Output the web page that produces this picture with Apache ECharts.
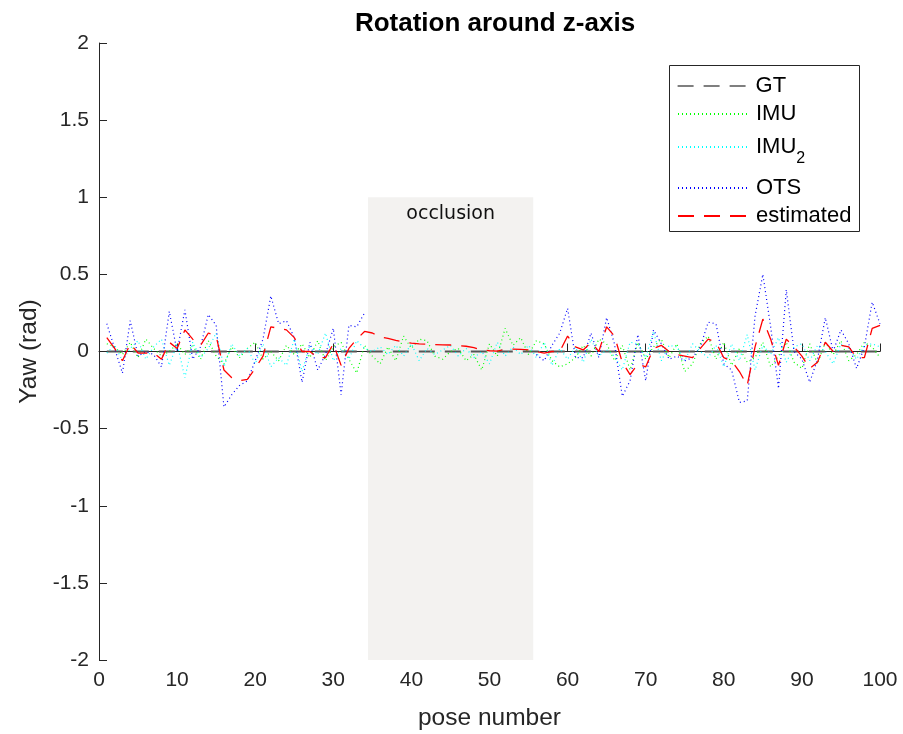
<!DOCTYPE html>
<html>
<head>
<meta charset="utf-8">
<script src="https://cdn.jsdelivr.net/npm/echarts@6/dist/echarts.min.js"></script>
<style>html,body{margin:0;padding:0;background:#fff;}#c{width:903px;height:734px;}</style>
</head>
<body>
<div id="c"></div>
<script>
const poses = Array.from({length: 100}, (_, i) => i + 1);
const gt = poses.map(() => 0);
const imu = [0.05,0.03,-0.02,0.06,-0.04,0.08,0.02,-0.03,0.0,0.05,-0.02,0.04,-0.05,0.07,-0.03,-0.08,0.03,-0.04,0.02,0.06,-0.05,0.0,-0.06,0.04,-0.02,0.05,-0.04,0.07,-0.06,0.03,0.06,-0.05,-0.14,0.04,-0.03,-0.08,0.03,-0.06,0.1,0.02,0.08,0.07,-0.03,-0.05,0.0,0.02,-0.06,-0.02,-0.12,0.05,-0.03,0.15,0.04,0.09,-0.02,0.07,0.05,-0.06,-0.1,-0.08,-0.04,0.04,-0.03,0.08,0.05,-0.06,0.04,-0.12,0.06,-0.05,0.03,0.08,-0.04,0.05,-0.13,-0.08,0.05,0.1,-0.05,0.06,-0.09,0.02,-0.07,-0.04,0.06,-0.1,-0.03,0.06,-0.07,-0.11,0.05,-0.08,0.06,-0.02,0.07,-0.06,-0.02,0.06,0.03,-0.04];
const imu2 = [-0.01,0.04,-0.06,0.02,0.07,-0.05,0.03,0.08,-0.09,0.05,-0.17,0.06,-0.04,0.02,0.12,-0.1,0.05,-0.03,0.02,-0.08,0.05,-0.1,-0.04,-0.09,0.08,-0.13,0.04,-0.02,0.12,-0.06,0.02,-0.05,0.07,0.02,0.0,0.03,-0.02,0.04,-0.03,0.05,-0.06,0.02,-0.02,0.01,0.04,-0.03,0.02,-0.04,0.0,-0.08,0.06,-0.03,0.03,-0.02,0.04,-0.04,0.06,-0.09,0.02,-0.05,0.03,-0.07,0.08,-0.03,0.01,-0.03,-0.12,0.06,0.05,-0.04,0.13,-0.06,0.04,0.03,-0.06,0.05,0.0,-0.04,0.04,-0.1,0.05,-0.06,0.11,-0.12,0.04,-0.02,0.09,-0.07,0.03,0.05,-0.06,0.04,0.0,-0.08,0.05,0.02,-0.05,0.04,0.05,0.03];
const ots = [0.18,0.02,-0.14,0.2,-0.03,0.0,-0.02,-0.1,0.26,0.0,0.27,-0.05,0.03,0.24,0.17,-0.36,-0.28,-0.22,-0.19,-0.06,0.08,0.36,0.18,0.2,0.09,-0.2,0.06,-0.12,-0.02,0.15,-0.28,0.17,0.16,0.25,
  null,null,null,null,null,null,null,null,null,null,null,null,null,null,null,null,null,null,null,null,null,
  -0.02,-0.06,0.04,0.12,0.28,-0.04,-0.04,0.12,-0.04,0.22,0.05,-0.29,-0.19,0.11,-0.19,0.14,0.05,-0.05,-0.03,-0.06,-0.04,0.03,0.19,0.18,-0.08,-0.12,-0.33,-0.32,0.23,0.5,0.16,-0.24,0.4,0.0,-0.05,-0.2,-0.05,0.22,0.0,0.14,0.05,-0.11,0.03,0.32,0.18];
const est = [0.09,0.02,-0.06,0.05,-0.01,-0.01,-0.01,-0.05,0.06,0.02,0.14,0.08,0.04,0.12,0.1,-0.12,-0.17,-0.19,-0.18,-0.11,-0.03,0.16,0.15,0.14,0.09,0.0,0.0,-0.04,-0.04,0.05,-0.09,0.02,0.08,0.13,
  0.12,0.095,0.085,0.072,0.062,0.054,0.05,0.048,0.045,0.043,0.042,0.038,0.034,0.025,0.01,0.005,0.002,0.015,0.016,0.014,0.01,
  0.0,-0.01,0.0,0.0,0.1,0.03,0.01,0.06,0.0,0.16,0.1,-0.07,-0.15,-0.08,-0.1,0.02,0.04,0.0,-0.02,-0.03,-0.04,0.02,0.08,0.06,-0.04,-0.06,-0.13,-0.22,0.03,0.21,0.08,-0.09,0.08,0.03,-0.03,-0.11,-0.07,0.06,0.0,0.04,0.03,-0.04,-0.04,0.15,0.17];
const occlusion = {from: 34.45, to: 55.6, top: 1, label: 'occlusion'};
const legendNames = ['GT', 'IMU', 'IMU2', 'OTS', 'estimated'];

const pair = arr => poses.map((p, i) => [p, arr[i] === undefined ? null : arr[i]]);
const font = 'Liberation Sans, Arial, sans-serif';
const axisCol = '#262626';
const dash = [16, 10];
const dot = [1, 3];
const legendTops = [75, 103, 136, 177, 205];

const legends = legendNames.map((n, i) => ({
  orient: 'vertical', left: 677, top: legendTops[i], padding: 0, z: 6,
  itemWidth: 71, itemHeight: 14, itemGap: 0,
  itemStyle: {opacity: 0},
  selectedMode: false,
  data: [n === 'GT' ? {name: n, lineStyle: {color: '#000', width: 1.2}} : n],
  formatter: v => v === 'IMU2' ? '{a|IMU}{s|2}' : v,
  textStyle: {fontFamily: font, fontSize: 22, color: '#000', padding: [0, 0, 0, 2],
    rich: {
      a: {fontFamily: font, fontSize: 22, color: '#000', padding: [9, 0, 9, 0]},
      s: {fontFamily: font, fontSize: 16, color: '#000', padding: [24, 0, 0, 0]}
    }}
}));

const chart = echarts.init(document.getElementById('c'));
chart.setOption({
  animation: false,
  backgroundColor: '#fff',
  title: {
    text: 'Rotation around z-axis', left: 490, top: 6, textAlign: 'center',
    textStyle: {fontFamily: font, fontSize: 26, fontWeight: 'bold', color: '#000'}
  },
  grid: {left: 99, right: 23, top: 43, bottom: 74, containLabel: false, outerBoundsMode: 'none'},
  graphic: [{
    type: 'rect', z: 5, silent: true,
    shape: {x: 669.5, y: 65.5, width: 190, height: 166},
    style: {fill: '#fff', stroke: '#262626', lineWidth: 1}
  }],
  legend: legends,
  xAxis: {
    type: 'value', min: 0, max: 100, interval: 10,
    name: 'pose number', nameLocation: 'middle', nameGap: 46,
    nameTextStyle: {fontFamily: font, fontSize: 24.5, color: axisCol},
    axisLine: {show: true, lineStyle: {color: axisCol, width: 1}},
    axisTick: {show: true, inside: true, length: 8, lineStyle: {color: axisCol}},
    axisLabel: {fontFamily: font, fontSize: 21, color: axisCol, margin: 10},
    splitLine: {show: false}
  },
  yAxis: {
    type: 'value', min: -2, max: 2, interval: 0.5,
    name: 'Yaw (rad)', nameLocation: 'middle', nameGap: 57, nameRotate: 90,
    nameTextStyle: {fontFamily: font, fontSize: 24.5, color: axisCol},
    axisLine: {show: true, lineStyle: {color: axisCol, width: 1}},
    axisTick: {show: true, inside: true, length: 8, lineStyle: {color: axisCol}},
    axisLabel: {fontFamily: font, fontSize: 21, color: axisCol, margin: 10},
    splitLine: {show: false}
  },
  series: [
    {
      name: 'GT', type: 'line', data: pair(gt), symbol: 'none', z: 2,
      lineStyle: {color: '#555', width: 1.8, type: dash}, itemStyle: {color: '#000'},
      markArea: {
        silent: true,
        itemStyle: {color: '#f3f2f0'},
        label: {show: true, position: 'insideTop', distance: 7, formatter: occlusion.label,
          fontFamily: 'DejaVu Sans, sans-serif', fontSize: 19, color: '#111'},
        data: [[{xAxis: occlusion.from, yAxis: -2}, {xAxis: occlusion.to, yAxis: occlusion.top}]]
      }
    },
    {name: 'IMU', type: 'line', data: pair(imu), symbol: 'none', z: 3,
      lineStyle: {color: '#00ff00', width: 1.2, type: dot}, itemStyle: {color: '#00ff00'}},
    {name: 'IMU2', type: 'line', data: pair(imu2), symbol: 'none', z: 3,
      lineStyle: {color: '#00ffff', width: 1.2, type: dot}, itemStyle: {color: '#00ffff'}},
    {name: 'OTS', type: 'line', data: pair(ots), symbol: 'none', z: 4, connectNulls: false,
      lineStyle: {color: '#0000ff', width: 1.2, type: dot}, itemStyle: {color: '#0000ff'}},
    {name: 'estimated', type: 'line', data: pair(est), symbol: 'none', z: 5,
      lineStyle: {color: '#ff0000', width: 1.3, type: dash}, itemStyle: {color: '#ff0000'}}
  ]
});
</script>
</body>
</html>
